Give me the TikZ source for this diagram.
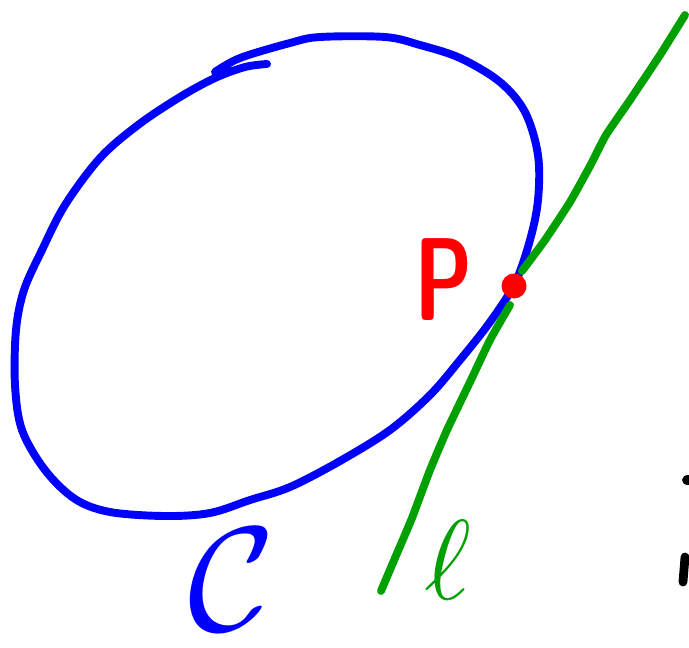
\documentclass[tikz,border=0pt]{standalone}
\usepackage{amsmath,amssymb}
\usepackage{xcolor}
\usepackage{tikz}
\usetikzlibrary{calc}
\definecolor{curveblue}{HTML}{0000FF}
\definecolor{lineggreen}{HTML}{00A000}
\definecolor{pointred}{HTML}{FF0000}

\tikzset{
  pen/.style={line width=4.5pt, line cap=round, line join=round},
  handlabel/.style={font=\Huge, inner sep=0pt}
}

\begin{document}
\begin{tikzpicture}[x=0.02cm, y=-0.02cm]
  \useasboundingbox (0,0) rectangle (689,647);
  \clip (0,0) rectangle (689,647);

  % Curve C
  \draw[pen, curveblue] plot[smooth, tension=0.55] coordinates {
    (215,72) (240,58) (290,43) (320,37) (385,37) (420,45) (460,58)
    (500,82) (525,112) (538,155) (538,200) (530,240) (515,283)
    (490,322) (460,360) (430,395) (390,430) (340,461) (290,487)
    (250,500) (210,513) (165,516) (110,512) (75,499) (45,470)
    (22,430) (15,385) (16,330) (24,290) (42,250) (65,205) (100,158)
    (138,125) (180,97) (215,78) (245,67) (267,64)};

  % Tangent line l
  \draw[pen, lineggreen] plot[smooth, tension=0.3] coordinates {
    (381,591) (395,558) (412,518) (430,470) (447,430) (470,382)
    (490,340) (510,305)};
  \draw[pen, lineggreen] plot[smooth, tension=0.3] coordinates {
    (522,271) (545,240) (570,202) (590,166) (606,135) (630,100)
    (660,55) (685,15)};

  % Point P
  \node[circle, fill=pointred, minimum size=0.5cm, inner sep=0pt] (P) at (514,286) {};
  \node[handlabel, text=pointred, xscale=1.9, yscale=2.7] (Plabel) at (444,280) {\sffamily\bfseries P};

  % Labels
  \node[handlabel, text=curveblue, scale=3.4] (Clabel) at (232,580) {$\mathcal{C}$};
  \node[handlabel, text=lineggreen, scale=2.6] (llabel) at (448,560) {$\ell$};

  % cut-off mark at the right edge
  \fill[black] (688,480) ellipse (6 and 5);
  \draw[line width=5pt, line cap=round] (685,557) -- (683,582);
\end{tikzpicture}
\end{document}
